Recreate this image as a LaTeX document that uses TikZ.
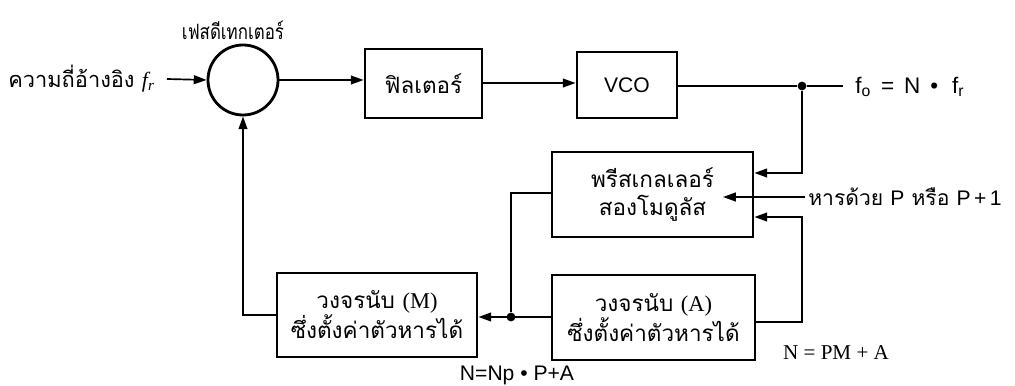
\documentclass[tikz,border=0pt]{standalone}
\usepackage{fontspec}
\setmainfont{Liberation Serif}
\newfontfamily\thai[Script=Thai]{Loma}
\newfontfamily\thaic[Script=Thai,FakeStretch=0.8]{Loma}
\newfontfamily\lsans{Liberation Sans}
\usetikzlibrary{arrows.meta,calc}
\begin{document}
\begin{tikzpicture}[x=0.025cm,y=-0.025cm,
  box/.style={draw,line width=2pt,inner sep=0pt,align=center,font=\thai\fontsize{16}{20}\selectfont},
  conn/.style={line width=1.2pt},
  arr/.style={conn,-{Triangle[length=3.2mm,width=2.2mm]}},
  jdot/.style={circle,fill,inner sep=0pt,minimum size=2.2mm},
  lbl/.style={inner sep=0pt,font=\thai\fontsize{16}{20}\selectfont}
]
\useasboundingbox (0,0) rectangle (1015,386);
% nodes
\node[draw,circle,line width=2pt,minimum size=1.75cm,inner sep=0pt] (det) at (243,80) {};
\node[inner sep=0pt,font=\thaic\fontsize{15}{18}\selectfont] (detl) at (233,30) {เฟสดีเทกเตอร์};
\node[lbl,anchor=west,font=\thai\fontsize{15.5}{18}\selectfont] (inl) at (8,79) {ความถี่อ้างอิง {\fontspec{Liberation Serif}\itshape f\textsubscript{r}}};
\node[box,minimum width=2.925cm,minimum height=1.725cm] (filt) at (423.5,83.5) {ฟิลเตอร์};
\node[box,minimum width=2.5cm,minimum height=1.65cm,font=\lsans\fontsize{15}{18}\selectfont] (vco) at (627,85) {VCO};
\node[box,minimum width=5.025cm,minimum height=2.125cm] (pre) at (652.5,194.5) {พรีสเกลเลอร์\\สองโมดูลัส};
\node[box,minimum width=5.075cm,minimum height=2.125cm] (cA) at (653.5,317.5) {วงจรนับ {\rmfamily(A)}\\ซึ่งตั้งค่าตัวหารได้};
\node[box,minimum width=5.0cm,minimum height=2.1cm] (cM) at (377,315) {วงจรนับ {\rmfamily(M)}\\ซึ่งตั้งค่าตัวหารได้};
\node[jdot] (d1) at (802,86) {};
\node[jdot] (d2) at (511,317) {};
\node[inner sep=0pt,anchor=west,font=\lsans\fontsize{16}{18}\selectfont] (fo) at (855,87) {f\textsubscript{o}\, =\, N \,\textbullet\,\, f\textsubscript{r}};
\node[inner sep=0pt,anchor=west,font=\thai\fontsize{15}{18}\selectfont] (div) at (808,197) {หารด้วย {\lsans P} หรือ {\lsans P\,+\,1}};
\node[inner sep=0pt,font=\lsans\fontsize{15}{18}\selectfont] (eq1) at (517,375) {N=Np \textbullet\ P+A};
\node[inner sep=0pt,font=\rmfamily\fontsize{15}{18}\selectfont] (eq2) at (836,353) {N = PM + A};
\coordinate (inS) at (167,79);
\coordinate (outE) at (843,86);
\coordinate (divS) at (805,197);
\coordinate (divT) at (723,197);
% connectors
\draw[arr] (inS) -- (det.west);
\draw[arr] (det.east) -- (det.east -| filt.west);
\draw[arr] (filt.east |- 0,83) -- (vco.west |- 0,83);
\draw[conn] (vco.east |- d1) -- (d1) -- (outE);
\draw[arr] (d1) |- (pre.east |- 0,173);
\draw[arr] (divS) -- (divT);
\draw[arr] (cA.east |- 0,322) -| (d1 |- 0,270) |- (pre.east |- 0,217);
\draw[arr] (cA.west |- d2) -- (cM.east |- d2);
\draw[conn] (d2) |- (pre.west |- 0,193);
\draw[arr] (cM.west) -| (det.south);
\end{tikzpicture}
\end{document}
